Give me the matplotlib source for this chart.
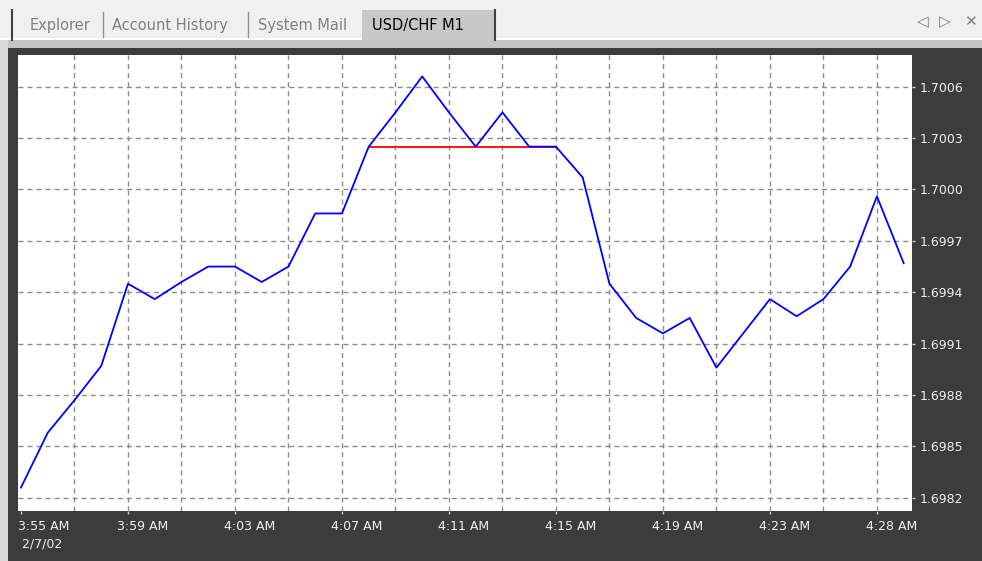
import matplotlib
matplotlib.use("Agg")
import matplotlib.pyplot as plt
import matplotlib.transforms as mtransforms
from matplotlib.patches import Rectangle

# close prices of the USD/CHF M1 bars (bar index 0 = 3:55 AM)
bars = list(range(34))
close = [1.69826, 1.69858, 1.69877, 1.69897, 1.69945, 1.69936, 1.69946, 1.69955,
         1.69955, 1.69946, 1.69955, 1.69986, 1.69986, 1.70025, 1.70045, 1.70066,
         1.70045, 1.70025, 1.70045, 1.70025, 1.70025, 1.70007, 1.69945, 1.69925,
         1.69916, 1.69925, 1.69896, 1.69916, 1.69936, 1.69926, 1.69936, 1.69955,
         1.69996, 1.69957]

# red level line (start bar, end bar, price)
level_bars = [13, 20]
level_price = 1.70025

time_ticks = [0, 4, 8, 12, 16, 20, 24, 28, 32]
time_labels = ["3:55 AM\n 2/7/02", "3:59 AM", "4:03 AM", "4:07 AM", "4:11 AM",
               "4:15 AM", "4:19 AM", "4:23 AM", "4:28 AM"]
price_ticks = [1.6982, 1.6985, 1.6988, 1.6991, 1.6994, 1.6997, 1.7000, 1.7003, 1.7006]

tabs = ["Explorer", "Account History", "System Mail"]
active_tab = "USD/CHF M1"

W, H = 982, 561
plt.rcParams["font.family"] = "DejaVu Sans"
plt.rcParams["lines.scale_dashes"] = False

fig = plt.figure(figsize=(W / 100, H / 100), dpi=100)

### window chrome, drawn in pixel coordinates
bg = fig.add_axes([0, 0, 1, 1])
bg.set_xlim(0, W)
bg.set_ylim(H, 0)
bg.axis("off")

bg.add_patch(Rectangle((0, 0), W, 40, color="#f0f0f0", lw=0))
bg.add_patch(Rectangle((0, 38), W, 2, color="#ffffff", lw=0))
bg.add_patch(Rectangle((0, 40), W, 8, color="#c4c4c4", lw=0))
bg.add_patch(Rectangle((0, 40), 8, H - 40, color="#d8d8d8", lw=0))
bg.add_patch(Rectangle((8, 48), W - 8, H - 48, color="#3c3c3c", lw=0))

# tabs
bg.add_patch(Rectangle((362, 10), 133, 30, color="#c8c8c8", lw=0))
bg.plot([12, 12], [10, 40], color="#404040", lw=1.5)
bg.plot([495, 495], [10, 40], color="#404040", lw=1.5)
for x in [103.5, 248.5]:
    bg.plot([x, x], [12, 37], color="#909090", lw=1)
for x, name in zip([30, 112, 258], tabs):
    bg.text(x, 25, name, color="#808080", fontsize=10.5, va="center", ha="left")
bg.text(372, 25, active_tab, color="#000000", fontsize=10.5, va="center", ha="left")
for x, sym in zip([923, 945, 970], ["\u25c1", "\u25b7", "\u2715"]):
    bg.text(x, 22, sym, color="#808080", fontsize=11, va="center", ha="center")

### chart area
ax = fig.add_axes([18.3 / W, 50.3 / H, (911.7 - 18.3) / W, (510.7 - 55) / H])
ax.set_facecolor("white")

ax.plot(level_bars, [level_price, level_price], color="#ff0000", lw=1.3, zorder=3)
ax.plot(bars, close, color="#0000ff", lw=1.3, zorder=4)

ax.set_xlim(-0.1, 33.3)
ax.set_ylim(1.698125, 1.700785)

# grid every 2 bars, labels every 4 bars
ax.xaxis.remove_overlapping_locs = False
ax.set_xticks(time_ticks)
ax.set_xticklabels(time_labels)
ax.set_xticks(range(2, 33, 2), minor=True)
ax.set_yticks(price_ticks)
ax.set_yticklabels(["%.4f" % p for p in price_ticks])

ax.yaxis.tick_right()
ax.tick_params(axis="both", which="major", colors="#d0d0d0", labelcolor="#f0f0f0",
               labelsize=9, length=2.5, width=1)
ax.tick_params(axis="x", which="major", pad=4)
ax.tick_params(axis="y", which="major", pad=3.3)
ax.tick_params(axis="x", which="minor", length=0)

ax.grid(which="minor", axis="x", color="#8c8c8c", lw=1, dashes=(3.6, 2.9))
ax.grid(which="major", axis="y", color="#8c8c8c", lw=1, dashes=(3.6, 2.9))
ax.grid(which="major", axis="x", visible=False)

for s in ax.spines.values():
    s.set_visible(False)

# MetaTrader puts the time labels to the right of their tick
for i, lab in enumerate(ax.get_xticklabels()):
    shift = -2.7 if i == 0 else -11
    lab.set_horizontalalignment("left")
    lab.set_multialignment("left")
    lab.set_linespacing(1.45)
    lab.set_transform(lab.get_transform() +
                      mtransforms.ScaledTranslation(shift / 100, 0, fig.dpi_scale_trans))

fig.savefig("out.png", dpi=100)
